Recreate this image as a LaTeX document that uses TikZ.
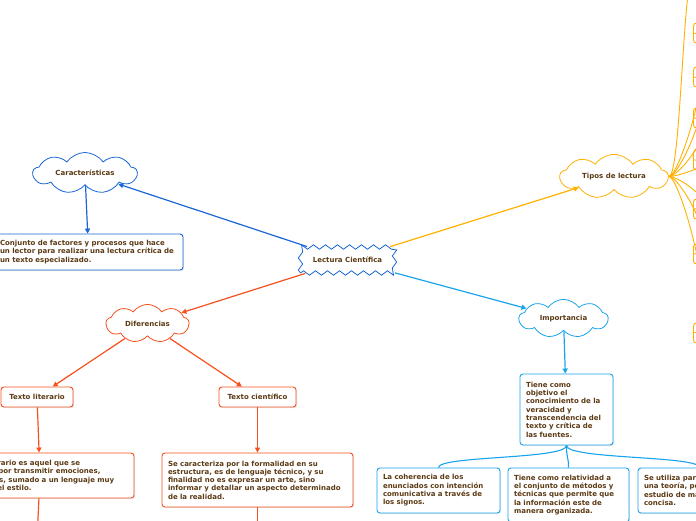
\documentclass[tikz,border=0pt]{standalone}
\usepackage{fontspec}
\setmainfont{DejaVu Sans}
\usetikzlibrary{positioning,arrows.meta,shapes.symbols,shadows,decorations.pathmorphing}
\definecolor{txtbrown}{HTML}{5C3A14}
\definecolor{cblue}{HTML}{1A66D6}
\definecolor{cred}{HTML}{F4511E}
\definecolor{cyellow}{HTML}{FFB000}
\definecolor{clblue}{HTML}{18A4EA}

\begin{document}
\begin{tikzpicture}[x=1pt, y=-1pt,
  every node/.style={font=\bfseries\fontsize{7}{8.3}\selectfont, text=txtbrown},
  topic/.style={cloud, cloud puffs=9, cloud puff arc=110, aspect=3, draw, fill=white, line width=0.8pt, inner sep=0pt},
  idea/.style={draw, rounded corners=3pt, fill=white, align=left, inner xsep=6pt, inner ysep=0pt, line width=0.9pt,
    drop shadow={shadow xshift=1.2pt, shadow yshift=-1.2pt, opacity=0.2}},
  tag/.style={idea, align=center, inner xsep=2pt},
  link/.style={line width=1.2pt, -{Triangle[length=5pt,width=5pt]}}]
\useasboundingbox (0,0) rectangle (696,520);
\clip (0,0) rectangle (696,520);

% centre
\node[draw=cblue, line width=0.8pt, decorate, decoration={zigzag, segment length=12pt, amplitude=2.2pt},
  minimum width=94, minimum height=26, inner sep=0pt] (lc) at (347.5,260) {Lectura Científica};

% left branches
\node[topic, draw=cblue, minimum width=104, minimum height=30] (car) at (85,173) {Características};
\node[idea, draw=cblue, minimum width=189, minimum height=36, text width=177] (cardef) at (88.5,252)
  {Conjunto de factores y procesos que hace\\un lector para realizar una lectura crítica de\\un texto especializado.};
\node[topic, draw=cred, minimum width=83, minimum height=33, aspect=2.2] (dif) at (147.5,323.5) {Diferencias};
\node[tag, draw=cred, minimum width=72, minimum height=20] (tl) at (37,397) {Texto literario};
\node[tag, draw=cred, minimum width=77, minimum height=20] (tc) at (257.5,397) {Texto científico};
\node[idea, draw=cred, minimum width=188, minimum height=45, text width=176] (tldef) at (40,475.5)
  {El texto literario es aquel que se\\caracteriza por transmitir emociones,\\sentimientos, sumado a un lenguaje muy\\cuidado en el estilo.};
\node[idea, draw=cred, minimum width=191, minimum height=54, text width=179] (tcdef) at (257.5,480)
  {Se caracteriza por la formalidad en su\\estructura, es de lenguaje técnico, y su\\finalidad no es expresar un arte, sino\\informar y detallar un aspecto determinado\\de la realidad.};
\coordinate (tlnext) at (37,540);
\coordinate (tcnext) at (257.5,540);

% right branches
\node[topic, draw=cyellow, minimum width=108, minimum height=33] (tip) at (614,176.5) {Tipos de lectura};
\node[topic, draw=clblue, minimum width=89, minimum height=33, aspect=2.4] (imp) at (563.5,318.5) {Importancia};
\node[idea, draw=clblue, minimum width=93, minimum height=71, text width=81] (impdef) at (566.5,409.5)
  {Tiene como\\objetivo el\\conocimiento de la\\veracidad y\\transcendencia del\\texto y crítica de\\las fuentes.};
\node[idea, draw=clblue, minimum width=123, minimum height=45, text width=111] (imp1) at (438.5,490.5)
  {La coherencia de los\\enunciados con intención\\comunicativa a través de\\los signos.};
\node[idea, draw=clblue, minimum width=121, minimum height=54, text width=109] (imp2) at (568.5,495)
  {Tiene como relatividad a\\el conjunto de métodos y\\técnicas que permite que\\la información este de\\manera organizada.};
\node[idea, draw=clblue, minimum width=123, minimum height=45, text width=111] (imp3) at (699.5,490.5)
  {Se utiliza para sustentar\\una teoría, permite el\\estudio de manera clara y\\concisa.};

% tipos de lectura (cut at the edge)
\coordinate (t0) at (693,-25);
\foreach \n/\y in {1/33,2/77,3/118,4/160,5/209,6/254,7/333}{
  \node[idea, draw=cyellow, minimum width=80, minimum height=20, anchor=west] (t\n) at (693,\y) {};
}
\foreach \n in {0,...,7}{\draw[cyellow, line width=0.9pt] (tip.east) .. controls +(12,0) and +(-10,0) .. (t\n);}

\foreach \a/\b/\c in {lc/car/cblue, lc/dif/cred, lc/tip/cyellow, lc/imp/clblue, car/cardef/cblue,
  dif/tl/cred, dif/tc/cred, tl/tldef/cred, tc/tcdef/cred, imp/impdef/clblue, tldef/tlnext/cred, tcdef/tcnext/cred}{
  \draw[link, \c] (\a) -- (\b);
}
\foreach \n in {imp1,imp2,imp3}{\draw[clblue, line width=1.1pt] (impdef.south) .. controls +(0,14) and +(0,-12) .. (\n.north);}
\end{tikzpicture}
\end{document}
